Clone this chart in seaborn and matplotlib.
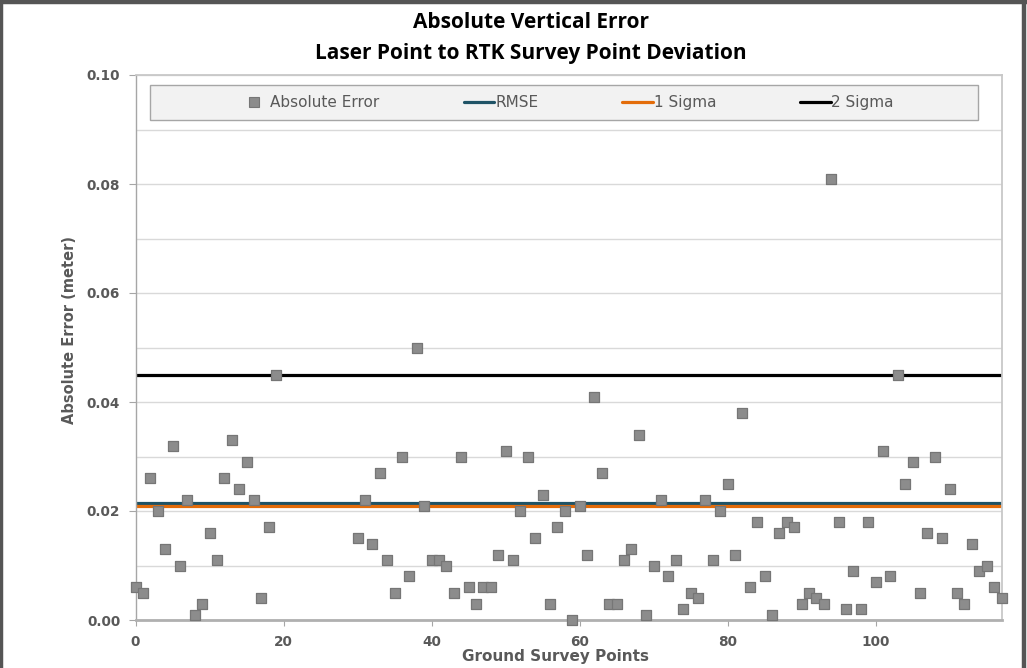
import matplotlib
matplotlib.use("Agg")
import matplotlib.pyplot as plt
from matplotlib.lines import Line2D
from matplotlib.patches import Rectangle
import seaborn as sns
import pandas as pd
import numpy as np

# ---- data ----
survey_points = list(range(0, 20)) + list(range(30, 118))
abs_error = [
    0.006, 0.005, 0.026, 0.020, 0.013, 0.032, 0.010, 0.022, 0.001, 0.003,
    0.016, 0.011, 0.026, 0.033, 0.024, 0.029, 0.022, 0.004, 0.017, 0.045,
    # 30..
    0.015, 0.022, 0.014, 0.027, 0.011, 0.005, 0.030, 0.008, 0.050, 0.021,
    0.011, 0.011, 0.010, 0.005, 0.030, 0.006, 0.003, 0.006, 0.006, 0.012,
    0.031, 0.011, 0.020, 0.030, 0.015, 0.023, 0.003, 0.017, 0.020, 0.000,
    0.021, 0.012, 0.041, 0.027, 0.003, 0.003, 0.011, 0.013, 0.034, 0.001,
    0.010, 0.022, 0.008, 0.011, 0.002, 0.005, 0.004, 0.022, 0.011, 0.020,
    0.025, 0.012, 0.038, 0.006, 0.018, 0.008, 0.001, 0.016, 0.018, 0.017,
    0.003, 0.005, 0.004, 0.003, 0.081, 0.018, 0.002, 0.009, 0.002, 0.018,
    0.007, 0.031, 0.008, 0.045, 0.025, 0.029, 0.005, 0.016, 0.030, 0.015,
    0.024, 0.005, 0.003, 0.014, 0.009, 0.010, 0.006, 0.004,
]
rmse = 0.0215
sigma1 = 0.0210
sigma2 = 0.045
series_labels = ["Absolute Error", "RMSE", "1 Sigma", "2 Sigma"]
x_ticks = [0, 20, 40, 60, 80, 100]
y_ticks = [0.00, 0.02, 0.04, 0.06, 0.08, 0.10]

df = pd.DataFrame({"point": survey_points, "error": abs_error})

# ---- style ----
sns.set_theme(style="white")
plt.rcParams["font.family"] = ["DejaVu Sans"]
label_grey = "#595959"

fig = plt.figure(figsize=(10.27, 6.68), dpi=100)
ax = fig.add_axes([135.5 / 1027, 1 - 620 / 668, (1001.5 - 135.5) / 1027, (620 - 75) / 668])

# reference lines
c_rmse, c_s1, c_s2 = "#1f5366", "#e36c0a", "#000000"
ax.axhline(sigma2, color=c_s2, lw=2.3, zorder=2)
ax.axhline(rmse, color=c_rmse, lw=2.3, zorder=2)
ax.axhline(sigma1, color=c_s1, lw=2.3, zorder=2.1)

sns.scatterplot(data=df, x="point", y="error", marker="s", s=62,
                color="#8c8c8c", edgecolor="#767676", linewidth=0.9,
                ax=ax, zorder=3, legend=False, clip_on=False)

ax.set_xlim(0, 117)
ax.set_ylim(0, 0.10)
ax.set_xticks(x_ticks)
ax.set_yticks(y_ticks)
ax.set_yticks(np.arange(0.01, 0.10, 0.02), minor=True)
ax.set_yticklabels([f"{v:.2f}" for v in y_ticks])
ax.yaxis.grid(True, which="both", color="#d9d9d9", lw=1.0, zorder=0)
ax.xaxis.grid(False)
ax.set_axisbelow(True)

for s in ["top", "right"]:
    ax.spines[s].set_color("#c8c8c8")
    ax.spines[s].set_linewidth(1.3)
ax.spines["left"].set_color("#a6a6a6")
ax.spines["left"].set_linewidth(1.0)
ax.spines["bottom"].set_color("#b0b0b0")
ax.spines["bottom"].set_linewidth(2.0)

ax.tick_params(axis="x", which="major", bottom=True, length=4, width=0.8, color="#a6a6a6",
               labelsize=9.8, labelcolor=label_grey, pad=7)
ax.tick_params(axis="y", which="major", left=True, length=5, width=0.8, color="#a6a6a6",
               labelsize=9.8, labelcolor=label_grey, pad=6)
ax.tick_params(axis="y", which="minor", left=False)
for lab in ax.get_xticklabels() + ax.get_yticklabels():
    lab.set_fontweight("bold")

ax.set_xlabel("Ground Survey Points", fontsize=11, fontweight="bold", color=label_grey)
ax.set_ylabel("Absolute Error (meter)", fontsize=10.5, fontweight="bold", color=label_grey)
ax.xaxis.set_label_coords((556 - 135.5) / 866, (620 - 649) / 545)
ax.yaxis.set_label_coords((77 - 135.5) / 866, (620 - 330) / 545)

# title
title_font = ["Liberation Sans Narrow", "Open Sans", "DejaVu Sans"]
fig.text(531 / 1027, 1 - 22 / 668, "Absolute Vertical Error", ha="center", va="center",
         fontsize=15, fontweight="bold", family=title_font, color="black")
fig.text(531 / 1027, 1 - 53 / 668, "Laser Point to RTK Survey Point Deviation", ha="center", va="center",
         fontsize=15, fontweight="bold", family=title_font, color="black")

# legend box
ax.add_patch(Rectangle(((150 - 135.5) / 866, (620 - 120) / 545), (978 - 150) / 866, 35 / 545,
                       transform=ax.transAxes, facecolor="#f2f2f2", edgecolor="#a6a6a6",
                       lw=1.0, zorder=4, clip_on=False))
handles = [
    Line2D([], [], ls="none", marker="s", ms=7, mfc="#8c8c8c", mec="#767676", mew=0.8),
    Line2D([], [], color=c_rmse, lw=2.3),
    Line2D([], [], color=c_s1, lw=2.3),
    Line2D([], [], color=c_s2, lw=2.3),
]
leg = ax.legend(handles, series_labels, ncol=4, loc="center",
                bbox_to_anchor=((566.5 - 135.5) / 866, (620 - 102.5) / 545),
                frameon=False, fontsize=11, handlelength=2.0, handletextpad=0.05,
                columnspacing=5.5, borderaxespad=0, borderpad=0, labelcolor=label_grey)
leg.set_zorder(5)

# outer frame of the chart (left, top, right)
for xy in [([0.001, 0.001], [0, 1]), ([0, 1], [0.9975, 0.9975]), ([0.9975, 0.9975], [0, 1])]:
    fig.add_artist(Line2D(xy[0], xy[1], transform=fig.transFigure, color="#555555", lw=3.2))

fig.savefig("out.png", dpi=100, facecolor="white")
